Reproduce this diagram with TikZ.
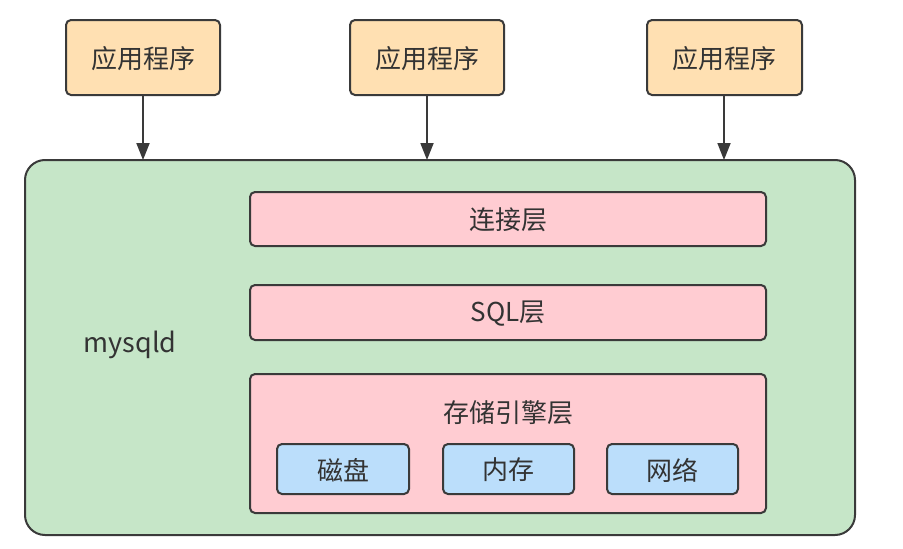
\documentclass[tikz,border=0pt]{standalone}
\usepackage{fontspec}
\setmainfont{Noto Sans CJK SC}
\usetikzlibrary{arrows.meta}
\definecolor{appfill}{HTML}{FFE0B2}
\definecolor{greenfill}{HTML}{C6E6C8}
\definecolor{pinkfill}{HTML}{FFCCD2}
\definecolor{bluefill}{HTML}{BBDEFB}
\definecolor{edge}{HTML}{3A3A3A}
\definecolor{txt}{HTML}{333333}
\tikzset{
  box/.style={draw=edge, line width=2pt, rounded corners=5pt},
  lbl/.style={text=txt, font=\fontsize{26}{30}\selectfont},
  conn/.style={draw=edge, line width=1.8pt, -{Triangle[length=17pt,width=13pt]}},
}
\begin{document}
\begin{tikzpicture}[x=1pt,y=-1pt]
\useasboundingbox (0,0) rectangle (903,549);
% applications
\draw[box, fill=appfill] (66,20) rectangle (220,95);
\node[lbl] (a1) at (143,58.5) {应用程序};
\draw[box, fill=appfill] (350,20) rectangle (504,95);
\node[lbl] (a2) at (427,58.5) {应用程序};
\draw[box, fill=appfill] (647,20) rectangle (802,95);
\node[lbl] (a3) at (724.5,58.5) {应用程序};
\coordinate (a1b) at (143,95);
\coordinate (a2b) at (427,95);
\coordinate (a3b) at (724,95);
\coordinate (m1) at (143,160);
\coordinate (m2) at (427,160);
\coordinate (m3) at (724,160);
% mysqld
\draw[box, fill=greenfill, rounded corners=20pt] (25,160) rectangle (855,535);
\node[lbl, font=\fontsize{27}{30}\selectfont] (my) at (130,345) {mysqld};
\draw[conn] (a1b) -- (m1);
\draw[conn] (a2b) -- (m2);
\draw[conn] (a3b) -- (m3);
% layers
\draw[box, fill=pinkfill] (250,192) rectangle (766,246);
\node[lbl] (l1) at (508,220) {连接层};
\draw[box, fill=pinkfill] (250,285) rectangle (766,340);
\node[lbl] (l2) at (508,314) {SQL层};
\draw[box, fill=pinkfill] (250,374) rectangle (766,513);
\node[lbl] (l3) at (508,413) {存储引擎层};
% storage
\draw[box, fill=bluefill] (277,444) rectangle (409,494);
\node[lbl] (s1) at (343,470) {磁盘};
\draw[box, fill=bluefill] (443,444) rectangle (574,494);
\node[lbl] (s2) at (508.5,470) {内存};
\draw[box, fill=bluefill] (607,444) rectangle (738,494);
\node[lbl] (s3) at (672.5,470) {网络};
\end{tikzpicture}
\end{document}
